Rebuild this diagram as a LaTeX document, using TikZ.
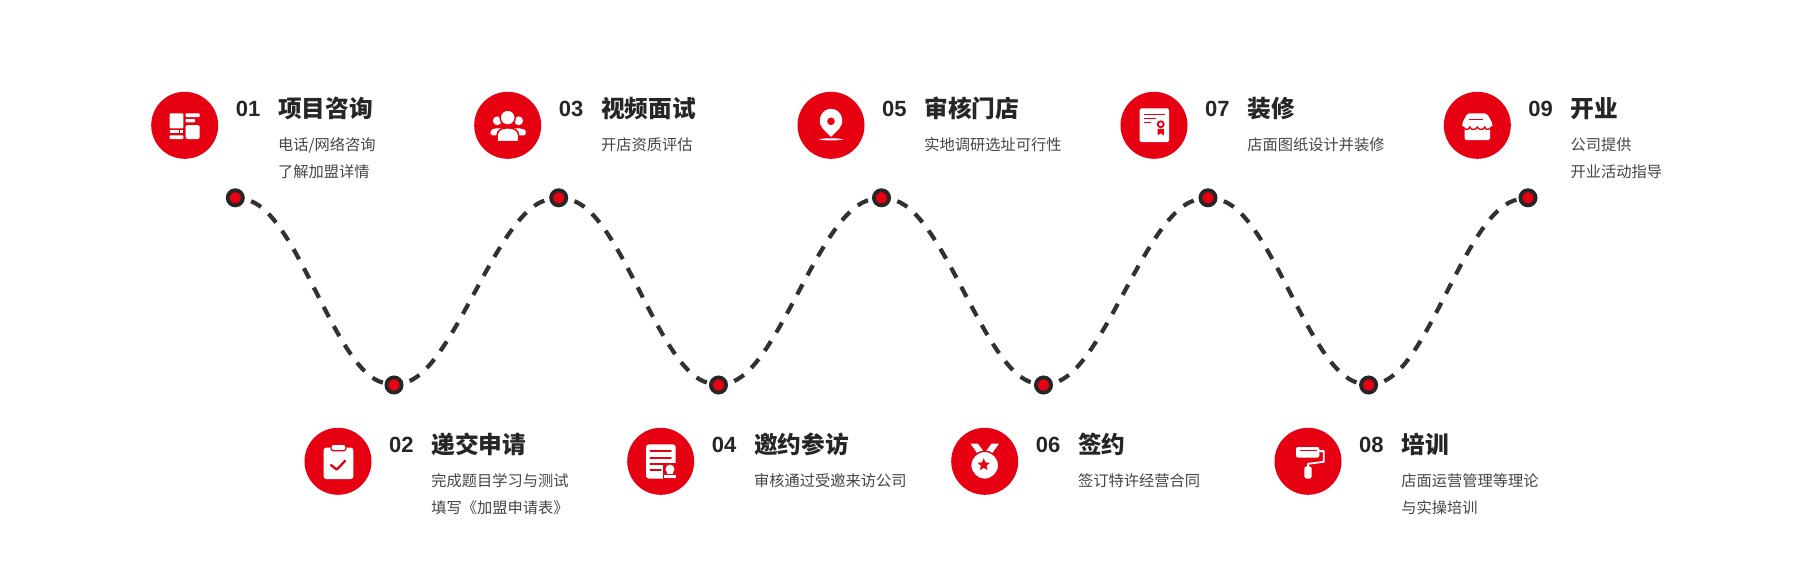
\documentclass[tikz,border=0pt]{standalone}
\usepackage{fontspec}
\setmainfont{Liberation Sans}
\newfontfamily\cjkfont{Noto Sans CJK SC}
\usetikzlibrary{shapes.geometric,calc}
\definecolor{brandred}{HTML}{E60012}
\definecolor{ink}{HTML}{262626}
\definecolor{subink}{HTML}{444444}
\tikzset{
  iconbg/.style={circle,fill=brandred,minimum size=67pt,inner sep=0pt,outer sep=0pt},
  wavedot/.style={circle,draw=ink,fill=brandred,line width=3.8pt,minimum size=15.2pt,inner sep=0pt},
  wave/.style={draw=ink!95,line width=4.2pt,dash pattern=on 11.5pt off 10.2pt,dash phase=15pt},
  numtext/.style={anchor=base,inner sep=0pt,text=ink,font=\fontsize{22}{22}\selectfont\bfseries},
  titletext/.style={anchor=base west,inner sep=0pt,text=ink,font=\cjkfont\fontsize{23.7}{24}\selectfont\bfseries},
  subtext/.style={anchor=base west,inner sep=0pt,text=subink,font=\cjkfont\fontsize{15.25}{15}\selectfont},
}
\newcommand{\stepinfo}[6]{% id, cx, cy, number, title, first line
  \node[iconbg] (i#1) at (#2,#3) {};
  \node[numtext] (n#1) at ($(i#1.center)+(63.3,-9)$) {#4};
  \node[subtext] (s#1) at ($(i#1.center)+(93.2,25)$) {#6};
  \node[titletext] (t#1) at ($(i#1.center)+(93.2,-8.3)$) {#5};
}
\begin{document}
\begin{tikzpicture}[x=1pt,y=-1pt]
\useasboundingbox (0,0) rectangle (1811,576);
% --- steps
\stepinfo{1}{184.7}{125.3}{01}{项目咨询}{电话/网络咨询}
\stepinfo{2}{338}{461.3}{02}{递交申请}{完成题目学习与测试}
\stepinfo{3}{507.7}{125.3}{03}{视频面试}{开店资质评估}
\stepinfo{4}{660.7}{461.3}{04}{邀约参访}{审核通过受邀来访公司}
\stepinfo{5}{831}{125.3}{05}{审核门店}{实地调研选址可行性}
\stepinfo{6}{984.7}{461.3}{06}{签约}{签订特许经营合同}
\stepinfo{7}{1154}{125.3}{07}{装修}{店面图纸设计并装修}
\stepinfo{8}{1308}{461.3}{08}{培训}{店面运营管理等理论}
\stepinfo{9}{1477.3}{125.3}{09}{开业}{公司提供}
\node[subtext] (x1) at ($(s1.base west)+(0,26.8)$) {了解加盟详情};
\node[subtext] (x2) at ($(s2.base west)+(0,26.8)$) {填写《加盟申请表》};
\node[subtext] (x8) at ($(s8.base west)+(0,26.8)$) {与实操培训};
\node[subtext] (x9) at ($(s9.base west)+(0,26.8)$) {开业活动指导};
% --- wave
\node[wavedot] (d1) at (235.3,197.8) {};
\node[wavedot] (d2) at (394,385) {};
\node[wavedot] (d3) at (558.7,197.8) {};
\node[wavedot] (d4) at (718.5,385) {};
\node[wavedot] (d5) at (881.5,197.8) {};
\node[wavedot] (d6) at (1043.5,385) {};
\node[wavedot] (d7) at (1208,197.8) {};
\node[wavedot] (d8) at (1368.6,385) {};
\node[wavedot] (d9) at (1528,197.8) {};
\draw[wave] (d1) .. controls +(62,10) and +(-60,-12) .. (d2);
\draw[wave] (d2) .. controls +(60,-12) and +(-62,10) .. (d3);
\draw[wave] (d3) .. controls +(62,10) and +(-60,-12) .. (d4);
\draw[wave] (d4) .. controls +(60,-12) and +(-62,10) .. (d5);
\draw[wave] (d5) .. controls +(62,10) and +(-60,-12) .. (d6);
\draw[wave] (d6) .. controls +(60,-12) and +(-62,10) .. (d7);
\draw[wave] (d7) .. controls +(62,10) and +(-60,-12) .. (d8);
\draw[wave] (d8) .. controls +(60,-12) and +(-62,10) .. (d9);
% --- icon 1: layout
\begin{scope}[shift={(i1.center)},fill=white]
\fill[rounded corners=1pt] (-15,-12) rectangle (-1.3,3);
\fill[rounded corners=.7pt] (1,-12) rectangle (15,-8.3);
\fill[rounded corners=.7pt] (1,-6.3) rectangle (10.3,-3);
\fill[rounded corners=1.5pt] (1,-.3) rectangle (15,13.7);
\fill (-15,4.3) rectangle (-5.3,8);
\fill (-4.7,4.3) rectangle (-1.3,8);
\fill[rounded corners=.7pt] (-15,10) rectangle (-1.3,13.7);
\end{scope}
% --- icon 2: clipboard
\begin{scope}[shift={(i2.center)}]
\fill[white,rounded corners=2.5pt] (-14.3,-13.7) rectangle (15.3,17.7);
\filldraw[fill=white,draw=brandred,line width=1.2pt,rounded corners=2.5pt] (-7,-17) rectangle (8,-10.5);
\draw[brandred,line width=2.3pt,line cap=round,line join=round] (-7,3.8) -- (-1.2,8.2) -- (7,-.3);
\end{scope}
% --- icon 3: people
\begin{scope}[shift={(i3.center)}]
\fill[white] (-10.5,-4.5) circle[radius=4.4];
\fill[white] (11,-4.5) circle[radius=4.4];
\fill[white,rounded corners=1.5pt] (-17,10) -- (-17,7.5) .. controls (-17,4.5) and (-14,3) .. (-10,3) -- (10,3) .. controls (14.5,3) and (18,4.5) .. (18,7.5) -- (18,10) -- cycle;
\filldraw[fill=white,draw=brandred,line width=1.5pt] (0,-7.7) circle[radius=7.6];
\filldraw[fill=white,draw=brandred,line width=1.5pt] (-10.5,16.2) -- (-10.5,9.5) .. controls (-10.5,5) and (-6,2.5) .. (0,2.5) .. controls (6,2.5) and (10.8,5) .. (10.8,9.5) -- (10.8,16.2) -- cycle;
\end{scope}
% --- icon 4: document and stamp
\begin{scope}[shift={(i4.center)}]
\fill[white,rounded corners=3pt] (-14.7,-17) rectangle (15,17.3);
\draw[brandred,line width=1.9pt,line cap=round] (-10.3,-10) -- (10.3,-10) (-10.3,-3.7) -- (10.3,-3.7) (-10.3,3) -- (3,3) (-10.3,9) -- (0.3,9);
\fill[brandred] (2,1.5) -- (16,1.5) -- (16,18) -- (2,18) -- cycle;
\fill[white] (9.3,7.8) circle[radius=4.5];
\fill[white] (6.3,9) rectangle (12.3,13);
\fill[white] (3.3,13.8) rectangle (15,16.4);
\end{scope}
% --- icon 5: map pin
\begin{scope}[shift={(i5.center)}]
\fill[white] (-10.5,-0.5) .. controls (-13,-7) and (-9,-16.4) .. (0,-16.4) .. controls (9,-16.4) and (13,-7) .. (10.5,-0.5) .. controls (8.5,4.5) and (4,7) .. (0,11.5) .. controls (-4,7) and (-8.5,4.5) .. (-10.5,-0.5) -- cycle;
\fill[brandred] (0,-4) circle[radius=3.8];
\fill[white] (-12.2,14) .. controls (-6,12.6) and (6,12.6) .. (12.2,14) .. controls (6,15.6) and (-6,15.6) .. (-12.2,14) -- cycle;
\end{scope}
% --- icon 6: medal
\begin{scope}[shift={(i6.center)}]
\fill[white] (-14.4,-17.8) -- (-7,-17.8) -- (-1.5,-10.4) -- (-7.5,-8.2) -- cycle;
\fill[white] (14.4,-17.8) -- (7,-17.8) -- (1.5,-10.4) -- (7.5,-8.2) -- cycle;
\filldraw[fill=white,draw=brandred,line width=1.4pt] (0,4) circle[radius=14];
\node[star,star points=5,star point ratio=2.2,fill=brandred,minimum size=13pt,inner sep=0pt] (i6star) at (-1,3.5) {};
\end{scope}
% --- icon 7: certificate
\begin{scope}[shift={(i7.center)}]
\fill[white,rounded corners=1.5pt] (-14.3,-17) rectangle (15,16.7);
\draw[brandred,line width=1.5pt] (-10.3,-10.7) -- (10.7,-10.7) (-10.3,-6.7) -- (1.7,-6.7) (-10.3,-2.7) -- (-2.7,-2.7);
\draw[brandred,line width=1.8pt] (6.7,-1) circle[radius=3];
\fill[brandred] (3.6,3.5) -- (9.8,3.5) -- (9.8,10) -- (6.7,8) -- (3.6,10) -- cycle;
\end{scope}
% --- icon 8: roller
\begin{scope}[shift={(i8.center)}]
\fill[white,rounded corners=2pt] (-12,-14.3) rectangle (11.3,-3.7);
\draw[brandred,line width=1.3pt] (-8.5,-10.5) -- (9,-10.5);
\draw[white,line width=1.8pt,line join=round] (11,-10.2) -- (15.7,-10.2) -- (15.7,.5) -- (0,2.5) -- (0,6);
\fill[white,rounded corners=1.8pt] (-3.7,5) rectangle (3.7,17.3);
\end{scope}
% --- icon 9: shop
\begin{scope}[shift={(i9.center)}]
\fill[white,rounded corners=2pt] (-10,-12) -- (9.5,-12) -- (15.2,-2) -- (15.2,2) -- (-15.2,2) -- (-15.2,-2) -- cycle;
\fill[white,rounded corners=1.5pt] (-12.7,1) rectangle (12.9,14.7);
\draw[brandred,line width=1.4pt] (-8,-6) -- (6,-6);
\draw[brandred,line width=1.4pt] (-15,1.2) .. controls (-12,5) and (-8.5,5) .. (-7.5,1.8) .. controls (-6,5) and (-2,5) .. (0,1.8) .. controls (2,5) and (6,5) .. (7.5,1.8) .. controls (8.5,5) and (12,5) .. (15,1.2);
\end{scope}
\end{tikzpicture}
\end{document}
